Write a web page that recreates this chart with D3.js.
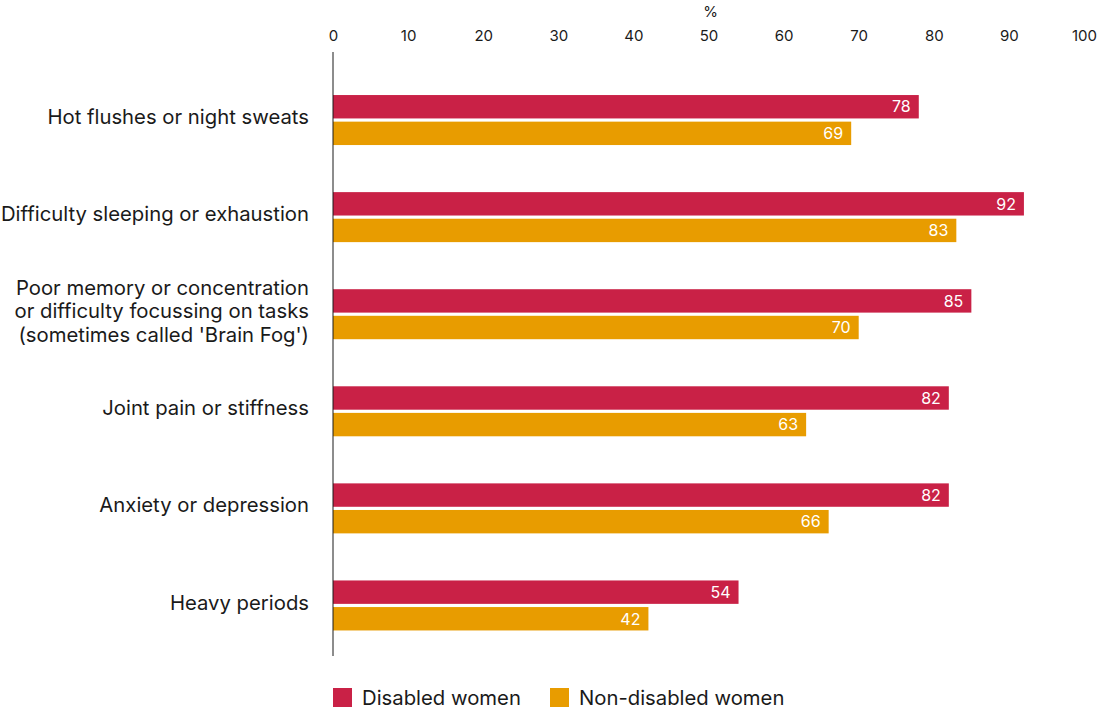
<!DOCTYPE html>
<html>
<head>
<meta charset="utf-8">
<script src="https://cdn.jsdelivr.net/npm/d3@7"></script>
<style>
  html, body { margin: 0; padding: 0; background: #ffffff; }
  svg { display: block; font-family: "Inter", "Noto Sans", sans-serif; }
</style>
</head>
<body>
<svg id="chart" width="1097" height="710"></svg>
<script>
// Menopause symptoms reported, by disability status (%)
const categories = [
  ["Hot flushes or night sweats"],
  ["Difficulty sleeping or exhaustion"],
  ["Poor memory or concentration", "or difficulty focussing on tasks", "(sometimes called 'Brain Fog')"],
  ["Joint pain or stiffness"],
  ["Anxiety or depression"],
  ["Heavy periods"]
];
const seriesNames = ["Disabled women", "Non-disabled women"];
const disabledValues = [78, 92, 85, 82, 82, 54];
const nonDisabledValues = [69, 83, 70, 63, 66, 42];
const tickValues = [0, 10, 20, 30, 40, 50, 60, 70, 80, 90, 100];
const colors = ["#c92146", "#e89c00"];

const svg = d3.select("#chart");

const x = d3.scaleLinear().domain([0, 100]).range([333, 1084]);
const y = d3.scaleBand()
  .domain(categories.map((d, i) => i))
  .range([71.5, 654]);
const sub = d3.scaleBand()
  .domain([0, 1])
  .range([0, 50])
  .paddingInner(0.12);

// top axis labels
const axis = d3.axisTop(x).tickValues(tickValues).tickSize(0).tickPadding(0);
const axisG = svg.append("g")
  .attr("transform", "translate(0,41)")
  .call(axis);
axisG.select(".domain").remove();
axisG.selectAll("text")
  .attr("font-size", 15)
  .attr("fill", "#1a1a1a")
  .attr("font-family", "Inter, 'Noto Sans', sans-serif");

svg.append("text")
  .attr("x", x(50) + 2)
  .attr("y", 17)
  .attr("text-anchor", "middle")
  .attr("font-size", 15)
  .attr("fill", "#1a1a1a")
  .text("%");

// bars
const rows = categories.map((c, i) => ({
  i, lines: c, values: [disabledValues[i], nonDisabledValues[i]]
}));

const groups = svg.append("g").selectAll("g")
  .data(rows)
  .join("g")
  .attr("transform", d => `translate(0,${y(d.i) + y.bandwidth() / 2 - 25})`);

groups.selectAll("rect")
  .data(d => d.values.map((v, k) => ({ v, k })))
  .join("rect")
  .attr("x", x(0))
  .attr("y", d => sub(d.k))
  .attr("width", d => x(d.v) - x(0))
  .attr("height", sub.bandwidth())
  .attr("fill", d => colors[d.k]);

groups.selectAll("text.val")
  .data(d => d.values.map((v, k) => ({ v, k })))
  .join("text")
  .attr("class", "val")
  .attr("x", d => x(d.v) - 8)
  .attr("y", d => sub(d.k) + sub.bandwidth() / 2)
  .attr("dy", "0.36em")
  .attr("text-anchor", "end")
  .attr("font-size", 16)
  .attr("fill", "#ffffff")
  .text(d => d.v);

// category labels
groups.append("text")
  .attr("text-anchor", "end")
  .attr("font-size", 20.3)
  .attr("fill", "#1a1a1a")
  .each(function(d) {
    const n = d.lines.length;
    const t = d3.select(this);
    d.lines.forEach((line, j) => {
      t.append("tspan")
        .attr("x", 309)
        .attr("y", 22 + (j - (n - 1) / 2) * 23.5)
        .attr("dy", "0.35em")
        .text(line);
    });
  });

// vertical baseline
svg.append("line")
  .attr("x1", x(0)).attr("x2", x(0))
  .attr("y1", 52).attr("y2", 656)
  .attr("stroke", "#1a1a1a")
  .attr("stroke-width", 1);

// legend
const legendX = [333, 550];
const legend = svg.append("g").selectAll("g")
  .data(seriesNames)
  .join("g")
  .attr("transform", (d, i) => `translate(${legendX[i]},688)`);
legend.append("rect")
  .attr("width", 19).attr("height", 19)
  .attr("fill", (d, i) => colors[i]);
legend.append("text")
  .attr("x", 29)
  .attr("y", 10)
  .attr("dy", "0.36em")
  .attr("font-size", 20.3)
  .attr("fill", "#1a1a1a")
  .text(d => d);
</script>
</body>
</html>
